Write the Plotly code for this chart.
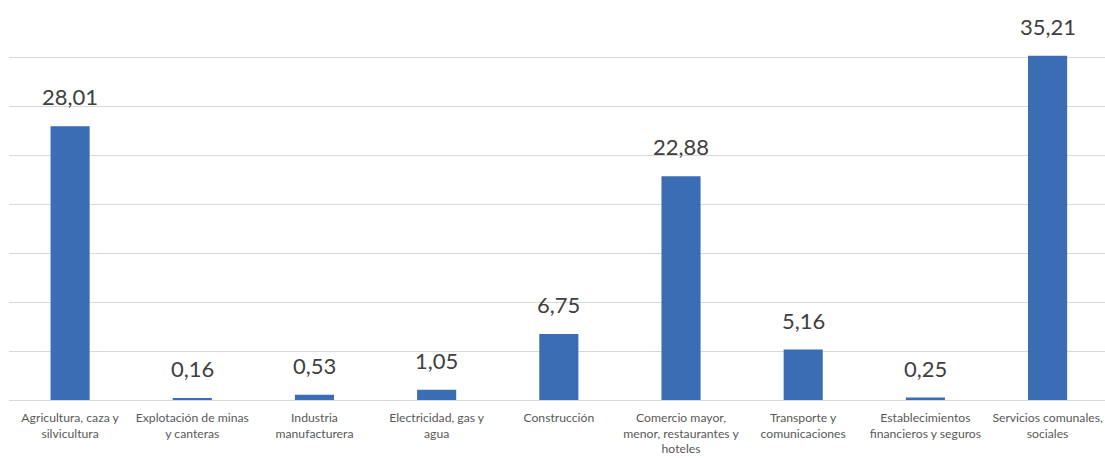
import plotly.graph_objects as go

categories = [
    "Agricultura, caza y<br>silvicultura",
    "Explotación de minas<br>y canteras",
    "Industria<br>manufacturera",
    "Electricidad, gas y<br>agua",
    "Construcción",
    "Comercio mayor,<br>menor, restaurantes y<br>hoteles",
    "Transporte y<br>comunicaciones",
    "Establecimientos<br>financieros y seguros",
    "Servicios comunales,<br>sociales",
]
values = [28.01, 0.16, 0.53, 1.05, 6.75, 22.88, 5.16, 0.25, 35.21]
labels = [f"{v:.2f}".replace(".", ",") for v in values]

fig = go.Figure()
fig.add_trace(go.Bar(
    x=categories, y=values,
    marker=dict(color="#3B6DB5", line=dict(width=0)),
    width=0.32,
    hoverinfo="skip",
))
for c, v, t in zip(categories, values, labels):
    fig.add_annotation(x=c, y=v, text=t, showarrow=False, yanchor="bottom",
                       yshift=14, font=dict(family="Lato, Open Sans, sans-serif", size=22, color="#404040"))

fig.update_layout(
    width=1105, height=458,
    margin=dict(l=9, r=0, t=8, b=58, autoexpand=False),
    paper_bgcolor="white", plot_bgcolor="white",
    showlegend=False,
    font=dict(family="Lato, Open Sans, sans-serif", size=12.2, color="#595959"),
)
fig.update_xaxes(showline=True, linecolor="#d9d9d9", linewidth=1, ticks="", tickangle=0,
                 range=[-0.5, 8.47], ticklabelstandoff=6,
                 tickfont=dict(size=12.2, color="#595959"), showgrid=False, automargin=False)
fig.update_yaxes(range=[0, 40.1], dtick=5, showticklabels=False, gridcolor="#d9d9d9",
                 gridwidth=1, zeroline=False, showline=False, automargin=False)
fig.write_html("out.html", config={"displayModeBar": False},
               post_script="document.body.style.margin='0';document.body.style.overflow='hidden';")
